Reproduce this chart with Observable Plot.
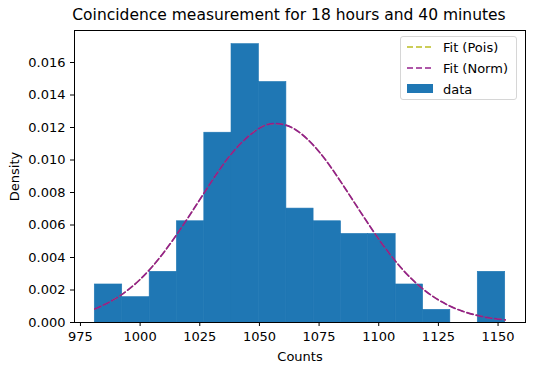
<!DOCTYPE html>
<html><head><meta charset="utf-8">
<script src="https://cdn.jsdelivr.net/npm/d3@7"></script>
<script src="https://cdn.jsdelivr.net/npm/@observablehq/plot@0.6"></script>
<style>
body{margin:0;background:#fff;font-family:"DejaVu Sans",sans-serif;}
#wrap{position:relative;width:540px;height:369px;overflow:hidden;}
#title{position:absolute;left:0;width:578px;top:6px;text-align:center;font-size:15.5px;color:#000;white-space:nowrap;}
#legend{position:absolute;left:400px;top:36px;width:117px;height:64px;border:1px solid #d6d6d6;border-radius:3px;background:rgba(255,255,255,0.85);font-size:13px;box-sizing:border-box;}
.row{position:absolute;left:6px;height:18px;display:flex;align-items:center;}
.row span{margin-left:10px;}
</style></head>
<body>
<div id="wrap">
<div id="chart"></div>
<div id="title">Coincidence measurement for 18 hours and 40 minutes</div>
<div id="legend"></div>
</div>
<script>
// Histogram bin edges (Counts) and densities
const binEdges = [981, 992.5, 1004, 1015.4, 1026.9, 1038.3, 1049.8, 1061.3, 1072.7, 1084.2, 1095.6, 1107.1, 1118.6, 1130, 1141.5, 1153];
const densities = [0.00234, 0.00156, 0.00312, 0.00623, 0.01168, 0.01713, 0.01480, 0.00701, 0.00623, 0.00545, 0.00545, 0.00234, 0.00078, 0, 0.00312];
// Fit curve (normal)
const fitX = [981, 990, 1000, 1010, 1020, 1030, 1040, 1050, 1057, 1065, 1075, 1085, 1095, 1105, 1115, 1125, 1135, 1145, 1153];
const fitNorm = [0.00083, 0.00150, 0.00265, 0.00433, 0.00643, 0.00869, 0.01068, 0.01196, 0.01224, 0.01188, 0.01051, 0.00846, 0.00621, 0.00414, 0.00251, 0.00139, 0.00070, 0.00032, 0.00016];
const fitPois = fitNorm.slice();
const xTicks = [975, 1000, 1025, 1050, 1075, 1100, 1125, 1150];
const yTicks = [0, 0.002, 0.004, 0.006, 0.008, 0.010, 0.012, 0.014, 0.016];

const bins = densities.map((d, i) => ({x1: binEdges[i], x2: binEdges[i + 1], y: d}));
const curve = fitX.map((x, i) => ({x, norm: fitNorm[i], pois: fitPois[i]}));

const chart = Plot.plot({
  width: 540, height: 369,
  marginLeft: 74, marginRight: 15, marginTop: 30, marginBottom: 47,
  style: {fontFamily: "DejaVu Sans, sans-serif", fontSize: "13px", color: "#000", background: "#fff"},
  x: {domain: [972.5, 1161.5], ticks: xTicks, tickFormat: d3.format("d"), label: "Counts", labelAnchor: "center", labelArrow: "none", tickSize: 4, labelOffset: 38},
  y: {domain: [0, 0.01797], ticks: yTicks, tickFormat: d3.format(".3f"), label: "Density", labelAnchor: "center", labelArrow: "none", tickSize: 4, labelOffset: 65},
  marks: [
    Plot.rectY(bins, {x1: "x1", x2: "x2", y: "y", fill: "#1f77b4", stroke: "#1f77b4", strokeWidth: 0.6, inset: 0}),
    Plot.line(curve, {x: "x", y: "pois", stroke: "#bcbd22", strokeWidth: 1.2, strokeDasharray: "6.5,3", curve: "natural"}),
    Plot.line(curve, {x: "x", y: "norm", stroke: "#941f8c", strokeWidth: 1.7, strokeDasharray: "6.5,3", curve: "natural"}),
    Plot.frame({stroke: "#000", strokeWidth: 1})
  ]
});
document.getElementById("chart").appendChild(chart);

const legendItems = [
  {label: "Fit (Pois)", type: "line", color: "#bcbd22"},
  {label: "Fit (Norm)", type: "line", color: "#941f8c"},
  {label: "data", type: "rect", color: "#1f77b4"}
];
const lg = document.getElementById("legend");
legendItems.forEach((it, i) => {
  const row = document.createElement("div");
  row.className = "row";
  row.style.top = (1 + i * 21) + "px";
  const sw = it.type === "line"
    ? `<svg width="26" height="10"><line x1="0" y1="5" x2="26" y2="5" stroke="${it.color}" stroke-width="1.6" stroke-dasharray="6,3"/></svg>`
    : `<svg width="26" height="10"><rect x="0" y="0" width="26" height="9" fill="${it.color}"/></svg>`;
  row.innerHTML = sw + `<span>${it.label}</span>`;
  lg.appendChild(row);
});
</script>
</body></html>
